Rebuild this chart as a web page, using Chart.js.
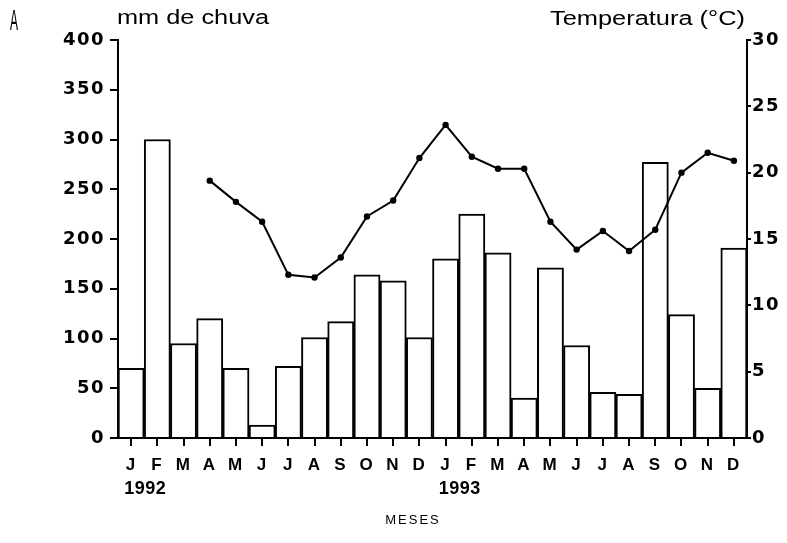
<!DOCTYPE html>
<html>
<head>
<meta charset="utf-8">
<script src="https://cdn.jsdelivr.net/npm/chart.js@4"></script>
<style>
  html, body { margin: 0; padding: 0; background: #fff; }
  #wrap { width: 787px; height: 543px; }
</style>
</head>
<body>
<div id="wrap"><canvas id="rainChart"></canvas></div>
<script>
// months Jan 1992 .. Dec 1993
const months = ['J','F','M','A','M','J','J','A','S','O','N','D',
                'J','F','M','A','M','J','J','A','S','O','N','D'];
const years = ['1992', '1993'];

// rainfall (mm)
const rainfall = [70, 300, 95, 120, 70, 13, 72, 101, 117, 164, 158, 101,
                  180, 225, 186, 40, 171, 93, 46, 44, 277, 124, 50, 191];

// temperature (°C), no readings for Jan-Mar 1992
const temperature = [null, null, null, 19.4, 17.8, 16.3, 12.3, 12.1, 13.6, 16.7, 17.9, 21.1,
                     23.6, 21.2, 20.3, 20.3, 16.3, 14.2, 15.6, 14.1, 15.7, 20.0, 21.5, 20.9];

const rainTicks = [0, 50, 100, 150, 200, 250, 300, 350, 400];
const tempTicks = [0, 5, 10, 15, 20, 25, 30];

Chart.defaults.color = '#000';
Chart.defaults.font.family = '"DejaVu Sans", "Liberation Sans", sans-serif';

// draw text stretched horizontally to a given width
function wideText(ctx, text, x, y, width, align) {
  const w = ctx.measureText(text).width;
  const k = width / w;
  ctx.save();
  ctx.textAlign = 'left';
  const left = align === 'right' ? x - width : x;
  ctx.translate(left, y);
  ctx.scale(k, 1);
  ctx.fillText(text, 0, 0);
  ctx.restore();
}

// slightly spaced tick digits like the scanned figure
const spacingPlugin = {
  id: 'spacing',
  beforeDraw(chart) { chart.ctx.letterSpacing = '1.5px'; },
  beforeDatasetsDraw(chart) { chart.ctx.letterSpacing = '0px'; }
};

// extra labels: panel letter, axis captions, years, x title
const labelsPlugin = {
  id: 'labels',
  afterDraw(chart) {
    const ctx = chart.ctx;
    const x = chart.scales.x;
    ctx.save();
    ctx.letterSpacing = '0px';
    ctx.fillStyle = '#000';
    ctx.textBaseline = 'alphabetic';

    ctx.font = '30px "Liberation Sans", sans-serif';
    wideText(ctx, 'A', 10, 30, 8, 'left');

    ctx.font = '20px "Liberation Sans", sans-serif';
    wideText(ctx, 'mm de chuva', 117, 24, 152, 'left');
    wideText(ctx, 'Temperatura (°C)', 745, 25, 195, 'right');

    ctx.font = 'bold 18px "Liberation Sans", sans-serif';
    ctx.textAlign = 'center';
    ctx.letterSpacing = '0.5px';
    ctx.fillText(years[0], (x.getPixelForValue(0) + x.getPixelForValue(1)) / 2 + 1, 494);
    ctx.fillText(years[1], (x.getPixelForValue(12) + x.getPixelForValue(13)) / 2 + 1, 494);

    ctx.font = '13px "Liberation Sans", sans-serif';
    ctx.letterSpacing = '2px';
    ctx.fillText('MESES', 413, 524);
    ctx.restore();
  }
};

const canvas = document.getElementById('rainChart');
new Chart(canvas, {
  data: {
    labels: months,
    datasets: [
      {
        type: 'line',
        label: 'Temperatura',
        data: temperature,
        yAxisID: 'yTemp',
        borderColor: '#000',
        backgroundColor: '#000',
        borderWidth: 2,
        pointRadius: 2.2,
        pointHoverRadius: 2.2,
        tension: 0,
        order: 0
      },
      {
        type: 'bar',
        label: 'mm de chuva',
        data: rainfall,
        yAxisID: 'yRain',
        backgroundColor: '#fff',
        borderColor: '#000',
        borderWidth: 2,
        barPercentage: 1,
        categoryPercentage: 1,
        order: 1
      }
    ]
  },
  options: {
    responsive: true,
    maintainAspectRatio: false,
    animation: false,
    layout: { padding: { top: 40, left: 0, right: 0, bottom: 0 } },
    plugins: {
      legend: { display: false },
      tooltip: { enabled: false }
    },
    scales: {
      x: {
        offset: true,
        grid: {
          offset: false,
          drawOnChartArea: false,
          drawTicks: true,
          tickLength: 8,
          color: '#000',
          lineWidth: 2
        },
        border: { display: true, color: '#000', width: 2 },
        ticks: {
          padding: 9,
          maxRotation: 0,
          autoSkip: false,
          font: { size: 17, weight: 'bold', family: '"Liberation Sans", sans-serif' }
        },
        afterFit: s => { s.height = 105; }
      },
      yRain: {
        position: 'left',
        min: 0,
        max: 400,
        afterBuildTicks: s => { s.ticks = rainTicks.map(v => ({ value: v })); },
        grid: {
          drawOnChartArea: false,
          tickLength: 8,
          color: '#000',
          lineWidth: 2
        },
        border: { display: true, color: '#000', width: 2 },
        ticks: {
          padding: 5,
          font: { size: 18, weight: 'bold' }
        },
        afterFit: s => { s.width = 118; }
      },
      yTemp: {
        position: 'right',
        min: 0,
        max: 30,
        afterBuildTicks: s => { s.ticks = tempTicks.map(v => ({ value: v })); },
        grid: {
          drawOnChartArea: false,
          tickLength: 4,
          color: '#000',
          lineWidth: 2
        },
        border: { display: true, color: '#000', width: 2 },
        ticks: {
          padding: 1,
          font: { size: 18, weight: 'bold' }
        },
        afterFit: s => { s.width = 40; }
      }
    }
  },
  plugins: [spacingPlugin, labelsPlugin]
});
</script>
</body>
</html>
